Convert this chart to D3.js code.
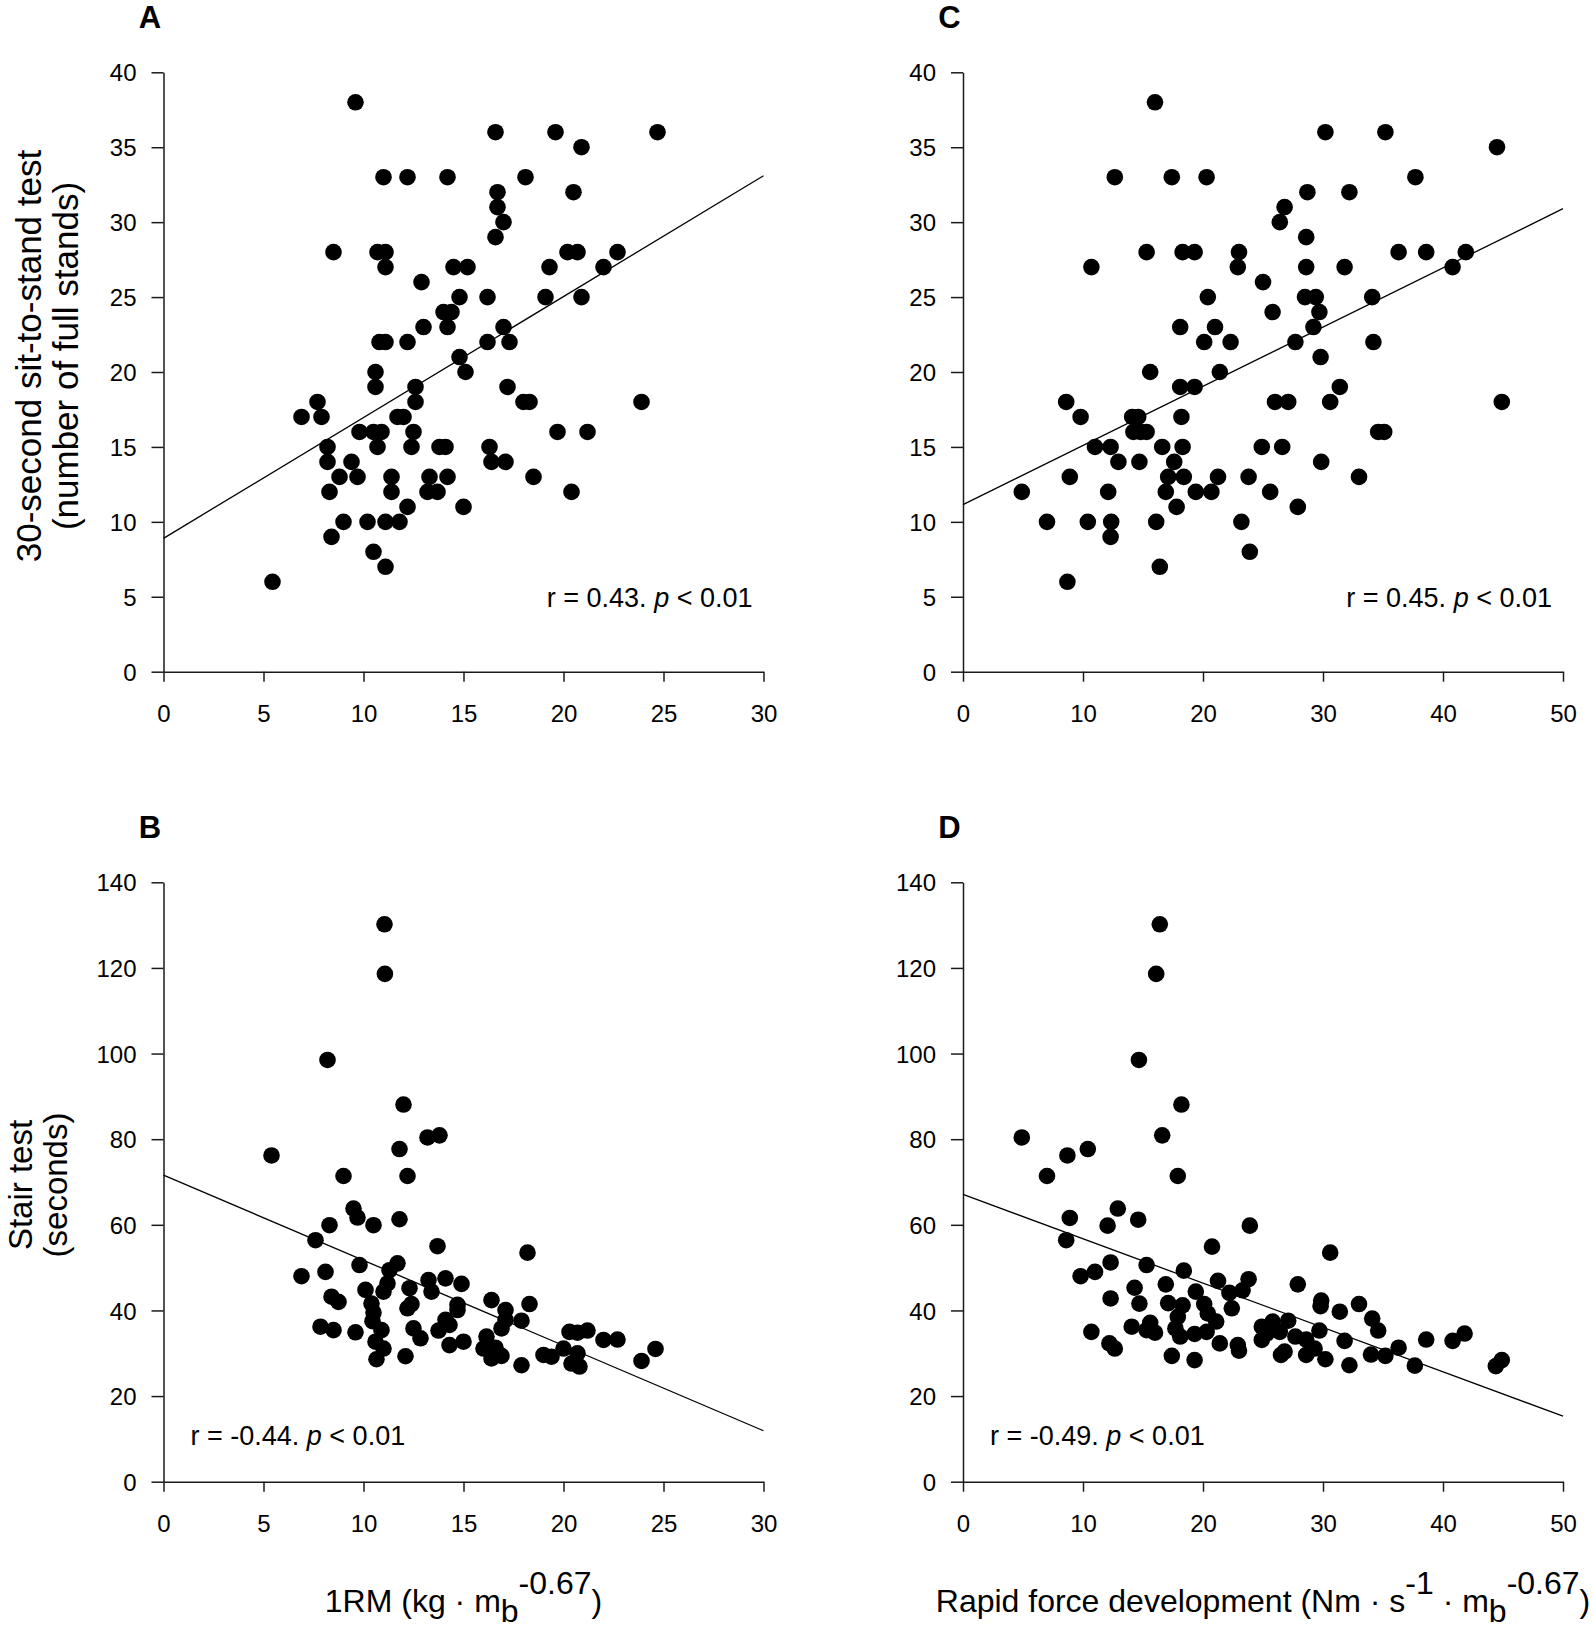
<!DOCTYPE html>
<html><head><meta charset="utf-8">
<script src="https://cdn.jsdelivr.net/npm/d3@7"></script>
<style>
body{margin:0;background:#fff}
svg{display:block}
text{font-family:Arial,"Liberation Sans",sans-serif;fill:#000}
</style>
</head><body>
<svg id="chart" width="1594" height="1638"></svg>
<script>
// ---------- data ----------
const panelLetters = ["A", "B", "C", "D"];
const xDomainRM = [0, 30];
const xDomainRFD = [0, 50];
const yDomainSit = [0, 40];
const yDomainStair = [0, 140];
const xTicksRM = [0, 5, 10, 15, 20, 25, 30];
const xTicksRFD = [0, 10, 20, 30, 40, 50];
const yTicksSit = [0, 5, 10, 15, 20, 25, 30, 35, 40];
const yTicksStair = [0, 20, 40, 60, 80, 100, 120, 140];

// A: 1RM vs 30-s sit-to-stand
const pointsA = [
 [9.6,38],[16.6,36],[19.6,36],[24.7,36],[20.9,35],
 [11.0,33],[12.2,33],[14.2,33],[18.1,33],
 [16.7,32],[20.5,32],[16.7,31],[17.0,30],[16.6,29],
 [8.5,28],[10.7,28],[11.1,28],[20.2,28],[20.7,28],[22.7,28],
 [11.1,27],[14.5,27],[15.2,27],[19.3,27],[22.0,27],
 [12.9,26],
 [14.8,25],[16.2,25],[19.1,25],[20.9,25],
 [14.0,24],[14.4,24],
 [13.0,23],[14.2,23],[17.0,23],
 [10.8,22],[11.1,22],[12.2,22],[16.2,22],[17.3,22],
 [14.8,21],
 [10.6,20],[15.1,20],
 [10.6,19],[12.6,19],[17.2,19],
 [7.7,18],[12.6,18],[18.0,18],[18.3,18],[23.9,18],
 [6.9,17],[7.9,17],[11.7,17],[12.0,17],
 [9.8,16],[10.5,16],[10.9,16],[12.5,16],[19.7,16],[21.2,16],
 [8.2,15],[10.7,15],[12.4,15],[13.8,15],[14.1,15],[16.3,15],
 [8.2,14],[9.4,14],[16.4,14],[17.1,14],
 [8.8,13],[9.7,13],[11.4,13],[13.3,13],[14.2,13],[18.5,13],
 [8.3,12],[11.4,12],[13.2,12],[13.7,12],[20.4,12],
 [12.2,11],[15.0,11],
 [9.0,10],[10.2,10],[11.1,10],[11.8,10],
 [8.4,9],[10.5,8],[11.1,7],[5.45,6]
];
// C: rapid force development vs 30-s sit-to-stand
const pointsC = [
 [16.0,38],[30.2,36],[35.2,36],[44.5,35],
 [12.65,33],[17.4,33],[20.3,33],[37.7,33],
 [28.7,32],[32.2,32],[26.8,31],[26.4,30],[28.6,29],
 [15.3,28],[18.3,28],[19.3,28],[23.0,28],[36.3,28],[38.6,28],[41.9,28],
 [10.7,27],[22.9,27],[28.6,27],[31.8,27],[40.8,27],
 [25.0,26],
 [20.4,25],[28.5,25],[29.4,25],[34.1,25],
 [25.8,24],[29.7,24],
 [18.1,23],[21.0,23],[29.2,23],
 [20.1,22],[22.3,22],[27.7,22],[34.2,22],
 [29.8,21],
 [15.6,20],[21.4,20],
 [18.1,19],[19.3,19],[31.4,19],
 [8.6,18],[26.0,18],[27.1,18],[30.6,18],[44.9,18],
 [9.8,17],[14.1,17],[14.6,17],[18.2,17],
 [14.2,16],[14.8,16],[15.3,16],[34.6,16],[35.1,16],
 [11.0,15],[12.3,15],[16.6,15],[18.3,15],[24.9,15],[26.6,15],
 [12.95,14],[14.7,14],[17.6,14],[29.85,14],
 [8.9,13],[17.1,13],[18.4,13],[21.25,13],[23.8,13],[33.0,13],
 [4.9,12],[12.1,12],[16.9,12],[19.4,12],[20.7,12],[25.6,12],
 [17.8,11],[27.9,11],
 [7.0,10],[10.4,10],[12.35,10],[16.1,10],[23.2,10],
 [12.3,9],[23.9,8],[16.4,7],[8.7,6]
];
// B: 1RM vs stair test
const pointsB = [
 [11.05,130.2],[11.07,118.6],[8.2,98.5],[12.0,88.1],[13.2,80.4],[13.8,80.9],
 [11.8,77.7],[5.4,76.2],[9.0,71.4],[12.2,71.4],
 [9.5,63.8],[9.7,61.7],[8.3,59.9],[10.5,59.9],[11.8,61.3],[7.6,56.4],
 [13.7,55.0],[18.2,53.5],[9.8,50.6],[11.7,51.0],[11.3,49.4],[6.9,48.0],
 [8.1,49.0],[11.2,46.3],[11.0,44.4],[10.1,44.8],[12.3,45.2],[13.25,47.1],
 [14.1,47.5],[14.9,46.2],[13.4,44.4],[8.4,43.2],[8.75,42.0],[10.4,41.6],
 [10.5,39.5],[10.45,37.5],[10.9,35.4],[10.6,32.7],[11.0,31.1],[10.65,28.6],
 [12.4,41.5],[12.2,40.5],[12.5,35.8],[12.85,33.5],[12.1,29.3],
 [14.7,41.3],[14.7,40.1],[14.1,37.8],[14.3,36.6],[13.75,35.3],[14.3,31.9],[15.0,32.7],
 [16.4,42.4],[17.1,40.1],[17.1,37.8],[16.9,35.8],[17.9,37.6],[18.3,41.5],
 [16.15,33.9],[16.0,31.1],[16.6,31.3],[16.4,28.8],[16.9,29.4],[17.9,27.2],
 [19.0,29.6],[19.4,29.2],[20.0,31.1],[20.3,35.0],[20.7,34.8],[21.2,35.3],
 [20.7,30.0],[20.4,27.6],[20.8,26.9],[22.0,33.1],[22.7,33.2],[24.6,31.0],[23.9,28.2],
 [7.85,36.2],[8.5,35.4],[9.6,34.9]
];
// D: rapid force development vs stair test
const pointsD = [
 [16.4,130.2],[16.1,118.6],[14.66,98.5],[18.2,88.1],[4.9,80.4],[16.6,80.9],
 [8.7,76.2],[10.4,77.7],[7.0,71.4],[17.9,71.4],
 [12.9,63.8],[8.9,61.6],[12.05,59.8],[14.6,61.2],[23.9,59.8],[8.6,56.4],
 [20.75,54.9],[30.6,53.5],[12.3,51.2],[15.3,50.6],[11.0,49.0],[9.8,48.0],
 [18.4,49.3],[16.9,46.1],[21.25,46.9],[23.8,47.3],[27.9,46.1],[14.3,45.3],
 [19.4,44.4],[22.2,44.1],[23.3,44.7],[12.3,42.8],[14.7,41.6],[17.1,41.7],
 [18.3,41.2],[20.1,41.5],[22.4,40.5],[29.85,42.3],[29.8,41.0],[31.4,39.7],
 [33.0,41.5],[34.1,38.1],[34.6,35.3],[17.9,38.5],[20.4,39.3],[21.1,37.4],
 [17.7,35.8],[18.1,33.9],[19.3,34.5],[20.3,35.0],[14.06,36.2],[15.6,37.1],
 [15.3,35.4],[16.0,34.8],[10.7,35.0],[12.2,32.3],[12.65,31.1],[17.4,29.4],
 [19.3,28.4],[21.4,32.3],[22.9,31.9],[23.0,30.6],[24.9,36.2],[25.8,37.4],
 [24.9,33.1],[25.3,34.6],[27.1,37.6],[26.4,35.0],[27.7,33.9],[28.6,33.2],
 [26.5,29.6],[26.8,30.4],[28.6,29.6],[29.3,31.1],[30.2,28.6],[29.7,35.3],
 [31.8,32.9],[32.2,27.2],[34.0,29.7],[35.2,29.4],[36.3,31.3],[37.65,27.1],
 [38.6,33.2],[40.8,32.9],[41.8,34.6],[44.4,27.0],[44.9,28.4]
];
// regression lines: y at domain start and domain end
const fitA = [8.9, 33.1];
const fitB = [71.6, 11.9];
const fitC = [11.15, 30.9];
const fitD = [67.1, 15.3];
const statA = ["r = 0.43. ", "p", " < 0.01"];
const statB = ["r = -0.44. ", "p", " < 0.01"];
const statC = ["r = 0.45. ", "p", " < 0.01"];
const statD = ["r = -0.49. ", "p", " < 0.01"];
const yTitleSit = ["30-second sit-to-stand test", "(number of full stands)"];
const yTitleStair = ["Stair test", "(seconds)"];
// x titles: [text, shift] with shift 0 normal, -1 superscript, +1 subscript
const xTitleRM = [["1RM (kg · m",0],["b",1],["-0.67",-1],[")",0]];
const xTitleRFD = [["Rapid force development (Nm · s",0],["-1",-1],[" · m",0],["b",1],["-0.67",-1],[")",0]];

// ---------- drawing ----------
const svg = d3.select("#chart");
const PW = 600, PH = 599.4;
const panels = [
 {letter:panelLetters[0], left:163.5, top:72.3, xd:xDomainRM, yd:yDomainSit, xt:xTicksRM, yt:yTicksSit, pts:pointsA, fit:fitA, stat:statA, statPos:"right",
  yTitle:yTitleSit, yTitleSize:35, yTitleX:[40.5, 77.5], yTitleCY:356},
 {letter:panelLetters[1], left:163.5, top:882.3, xd:xDomainRM, yd:yDomainStair, xt:xTicksRM, yt:yTicksStair, pts:pointsB, fit:fitB, stat:statB, statPos:"left",
  yTitle:yTitleStair, yTitleSize:33, yTitleX:[32, 67], yTitleCY:1185, xTitle:xTitleRM},
 {letter:panelLetters[2], left:963, top:72.3, xd:xDomainRFD, yd:yDomainSit, xt:xTicksRFD, yt:yTicksSit, pts:pointsC, fit:fitC, stat:statC, statPos:"right"},
 {letter:panelLetters[3], left:963, top:882.3, xd:xDomainRFD, yd:yDomainStair, xt:xTicksRFD, yt:yTicksStair, pts:pointsD, fit:fitD, stat:statD, statPos:"left", xTitle:xTitleRFD}
];

panels.forEach(p => {
  const x = d3.scaleLinear().domain(p.xd).range([p.left, p.left + PW]);
  const y = d3.scaleLinear().domain(p.yd).range([p.top + PH, p.top]);
  const g = svg.append("g");

  // axes
  const xa = g.append("g").attr("transform", `translate(0,${y(0)})`)
    .call(d3.axisBottom(x).tickValues(p.xt).tickSize(10).tickSizeOuter(0).tickFormat(d3.format("d")));
  xa.selectAll(".tick text").attr("y", 50).attr("dy", 0).attr("font-size", 24).attr("font-family", "Arial, 'Liberation Sans', sans-serif");
  const ya = g.append("g").attr("transform", `translate(${x(0)},0)`)
    .call(d3.axisLeft(y).tickValues(p.yt).tickSize(12).tickPadding(15).tickSizeOuter(0).tickFormat(d3.format("d")));
  ya.selectAll(".tick text").attr("font-size", 24).attr("dy", "0.36em").attr("font-family", "Arial, 'Liberation Sans', sans-serif");
  g.selectAll(".domain, .tick line").attr("stroke", "#1a1a1a").attr("stroke-width", 1.5);

  // regression line
  g.append("line")
    .attr("x1", x(p.xd[0])).attr("y1", y(p.fit[0]))
    .attr("x2", x(p.xd[1])).attr("y2", y(p.fit[1]))
    .attr("stroke", "#000").attr("stroke-width", 1.3);

  // points
  g.selectAll("circle").data(p.pts).enter().append("circle")
    .attr("cx", d => x(d[0])).attr("cy", d => y(d[1])).attr("r", 8.3).attr("fill", "#000");

  // stat text
  const st = g.append("text").attr("font-size", 27);
  if (p.statPos === "right") {
    st.attr("text-anchor", "end").attr("x", x(p.xd[1]) - 11).attr("y", y(0) - 65);
  } else {
    st.attr("text-anchor", "start").attr("x", x(p.xd[0]) + 27).attr("y", y(0) - 36.7);
  }
  st.append("tspan").text(p.stat[0]);
  st.append("tspan").attr("font-style", "italic").text(p.stat[1]);
  st.append("tspan").text(p.stat[2]);

  // panel letter
  g.append("text").attr("x", p.left - 13.5).attr("y", p.top - 44)
    .attr("text-anchor", "middle").attr("font-weight", "bold").attr("font-size", 31).text(p.letter);

  // y title
  if (p.yTitle) {
    p.yTitleX.forEach((bx, i) => {
      g.append("text").attr("transform", `translate(${bx},${p.yTitleCY}) rotate(-90)`)
        .attr("text-anchor", "middle").attr("font-size", p.yTitleSize).text(p.yTitle[i]);
    });
  }
  // x title
  if (p.xTitle) {
    const t = g.append("text").attr("x", p.left + PW / 2).attr("y", y(0) + 130)
      .attr("text-anchor", "middle").attr("font-size", 32);
    let cur = 0;
    const off = {"0":0, "1":10, "-1":-18};
    p.xTitle.forEach(([s, sh]) => {
      const target = off[String(sh)];
      t.append("tspan").attr("dy", target - cur).text(s);
      cur = target;
    });
  }
});
</script>
</body></html>
